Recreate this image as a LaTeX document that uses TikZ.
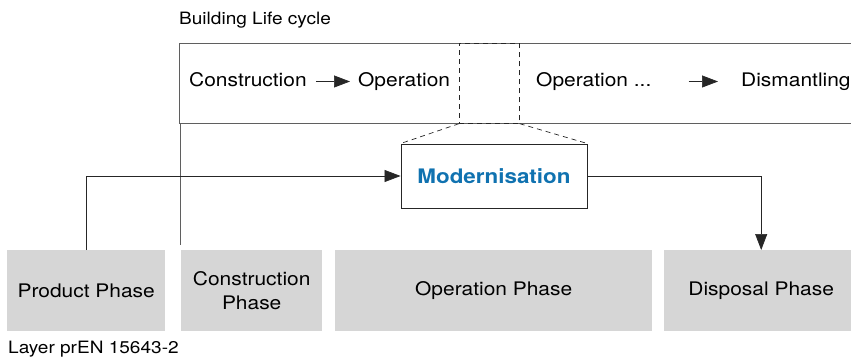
\documentclass[tikz,border=0pt]{standalone}
\usepackage{fontspec}
\setmainfont{TeX Gyre Heros}[FakeStretch=1.12]
\usetikzlibrary{arrows.meta,positioning}

\definecolor{phasegray}{RGB}{214,214,214}
\definecolor{modblue}{RGB}{16,114,176}
\definecolor{linegray}{RGB}{95,95,95}
\newcommand\mainsize{\fontsize{18.7}{23.5}\selectfont}
\newcommand\notesize{\fontsize{17}{20}\selectfont}

\begin{document}
\begin{tikzpicture}[x=1pt,y=-1pt,
    frame/.style={draw=linegray,line width=0.9pt,inner sep=0pt,anchor=north west},
    phase/.style={fill=phasegray,inner sep=0pt,minimum height=81pt,anchor=north west,align=center,font=\mainsize},
    stage/.style={inner sep=0pt,anchor=base west,font=\mainsize,text height=14pt,text depth=3pt},
    smalltext/.style={inner sep=0pt,anchor=base west,font=\notesize},
    zoomline/.style={black!85,line width=0.7pt,dash pattern=on 5pt off 4pt},
    link/.style={black!85,line width=0.7pt,-{Triangle[length=16pt,width=12pt]}}]
\useasboundingbox (0,0) rectangle (851,358);

% life cycle band
\node[smalltext] (lctitle) at (179,25) {Building Life cycle};
\node[frame,minimum width=681pt,minimum height=80pt] (life) at (179,43) {};
\node[frame,zoomline,minimum width=60pt,minimum height=80pt] (gap) at (459,43) {};
\node[stage] (cons) at (189,87) {Construction};
\node[stage] (oper) at (358,87) {Operation};
\node[stage] (operb) at (536,87) {Operation ...};
\node[stage] (dism) at (741,87) {Dismantling};
\draw[link,shorten <=9pt,shorten >=8pt] (cons) -- (oper);
\draw[link,shorten <=37pt,shorten >=23pt] (operb) -- (dism);

% modernisation
\node[draw=black!85,line width=0.9pt,minimum width=186pt,minimum height=64pt,inner sep=0pt,
      font=\fontsize{20}{24}\selectfont\bfseries,text=modblue] (modern) at (494,176) {Modernisation};
\draw[zoomline] (gap.south west) -- (modern.north west);
\draw[zoomline] (gap.south east) -- (modern.north east);

% phases of the layer
\node[phase,minimum width=158pt] (prod) at (7,250) {Product Phase};
\node[phase,minimum width=141pt] (constr) at (181,250) {Construction\\Phase};
\node[phase,minimum width=317pt] (operph) at (335,250) {Operation Phase};
\node[phase,minimum width=194pt] (disp) at (664,250) {Disposal Phase};
\node[smalltext] (layer) at (8,353) {Layer prEN 15643-2};

% connectors
\coordinate (lifeend) at (180,245);
\draw[linegray,line width=0.7pt] ([xshift=1pt]life.south west) -- (lifeend);
\draw[link] (prod.north) |- (modern.west);
\draw[link] (modern.east) -| (disp.north);
\end{tikzpicture}
\end{document}
